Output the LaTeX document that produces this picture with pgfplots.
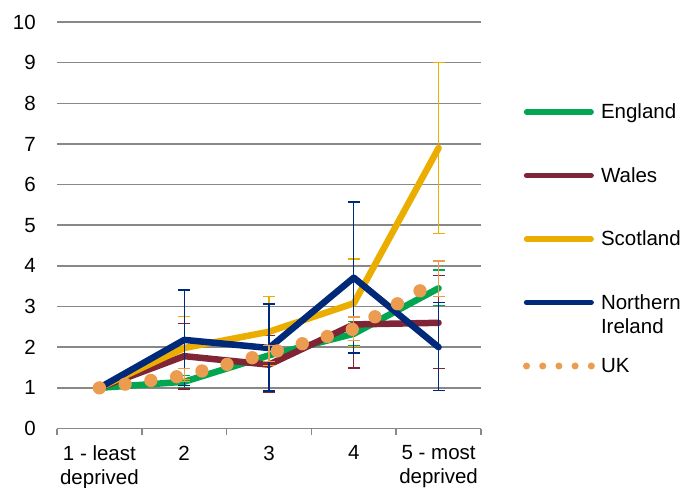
\documentclass[border=0pt]{standalone}
\usepackage{fontspec}
\setmainfont{Liberation Sans}
\usepackage{pgfplots}
\usepackage{pgfplotstable}
\pgfplotsset{compat=1.18}
\definecolor{cEng}{HTML}{00A650}
\definecolor{cWal}{HTML}{7F2535}
\definecolor{cSco}{HTML}{EBAE00}
\definecolor{cNI}{HTML}{00297A}
\definecolor{cUK}{HTML}{EB9C50}
\definecolor{cGrid}{HTML}{888888}

\pgfplotstableread{
x y ep em
1 1.00 0 0
2 1.15 0.15 0.15
3 1.80 0.20 0.20
4 2.33 0.30 0.30
5 3.45 0.45 0.42
}\england
\pgfplotstableread{
x y ep em
1 1.00 0 0
2 1.78 0.81 0.81
3 1.57 0.72 0.67
4 2.56 1.07 1.07
5 2.60 1.16 1.13
}\wales
\pgfplotstableread{
x y ep em
1 1.00 0 0
2 1.98 0.77 0.77
3 2.38 0.87 0.83
4 3.08 1.09 1.06
5 6.90 2.10 2.10
}\scotland
\pgfplotstableread{
x y ep em
1 1.00 0 0
2 2.18 1.23 1.13
3 1.98 1.08 1.06
4 3.71 1.86 1.85
5 2.00 1.10 1.06
}\nireland
\pgfplotstableread{
x y ep em
1 1.00 0 0
2 1.30 0.17 0.15
3 1.85 0.20 0.20
4 2.45 0.29 0.29
5 3.65 0.47 0.40
}\uk

\begin{document}
\begin{tikzpicture}
\useasboundingbox (-57bp,-59.5bp) rectangle (632bp,428.5bp);
\begin{axis}[
  at={(0,0)}, anchor=south west,
  width=424bp, height=406.5bp, scale only axis,
  xmin=0.5, xmax=5.5, ymin=0, ymax=10,
  xtick={1,2,3,4,5},
  xticklabels={{1 - least\\deprived},2,3,4,{5 - most\\deprived}},
  minor xtick={0.5,1.5,2.5,3.5,4.5,5.5},
  ytick={0,1,...,10},
  axis lines*=left,
  y axis line style={draw=none},
  x axis line style={draw=cGrid, line width=1.5bp, -},
  ymajorgrids,
  major grid style={draw=cGrid, line width=1.5bp},
  major tick length=0pt, minor tick length=6bp, tick align=outside,
  minor tick style={draw=cGrid, line width=1.5bp},
  ytick style={draw=none},
  /pgf/number format/assume math mode=true,
  tick label style={font=\fontsize{20.5bp}{24bp}\selectfont, text=black},
  yticklabel style={inner sep=0pt, anchor=east, xshift=-21bp},
  xticklabel style={inner sep=0pt, anchor=north, yshift=-17bp, align=center},
  legend cell align=left,
  legend style={at={(axis description cs:1.0991,0.7983)}, anchor=north west,
    draw=none, fill=none, inner sep=0pt, outer sep=0pt,
    font=\fontsize{20.5bp}{24bp}\selectfont,
    row sep=47.5bp, column sep=6bp,
    nodes={text height=15bp, text depth=1bp, inner sep=0pt}},
  every axis plot/.append style={line width=6.5bp, line cap=round, line join=round},
  error bars/y dir=both, error bars/y explicit,
  error bars/error bar style={line width=1.3bp, solid},
  error bars/error mark options={rotate=90, mark size=6bp, line width=1.3bp, solid},
]
\addplot[cEng, legend image code/.code={\draw[cEng, line width=5.3bp, line cap=round] (0bp,0bp) -- (64.7bp,0bp);}]
  table[x=x, y=y, y error plus=ep, y error minus=em] {\england};
\addlegendentry{England}
\addplot[cWal, legend image code/.code={\draw[cWal, line width=5.3bp, line cap=round] (0bp,0bp) -- (64.7bp,0bp);}]
  table[x=x, y=y, y error plus=ep, y error minus=em] {\wales};
\addlegendentry{Wales}
\addplot[cSco, legend image code/.code={\draw[cSco, line width=5.3bp, line cap=round] (0bp,0bp) -- (64.7bp,0bp);}]
  table[x=x, y=y, y error plus=ep, y error minus=em] {\scotland};
\addlegendentry{Scotland}
\addplot[cNI, legend image code/.code={\draw[cNI, line width=5.3bp, line cap=round] (0bp,0bp) -- (64.7bp,0bp);}]
  table[x=x, y=y, y error plus=ep, y error minus=em] {\nireland};
\addlegendentry{\begin{tabular}[t]{@{}l@{}}Northern\\Ireland\end{tabular}}
\addplot[cUK, line width=13.3bp, dash pattern=on 0bp off 26bp,
  legend image code/.code={\draw[cUK, line width=7bp, line cap=round, dash pattern=on 0bp off 16.2bp] (0bp,0bp) -- (65bp,0bp);}]
  table[x=x, y=y, y error plus=ep, y error minus=em] {\uk};
\addlegendentry{UK}
\end{axis}
\end{tikzpicture}
\end{document}
